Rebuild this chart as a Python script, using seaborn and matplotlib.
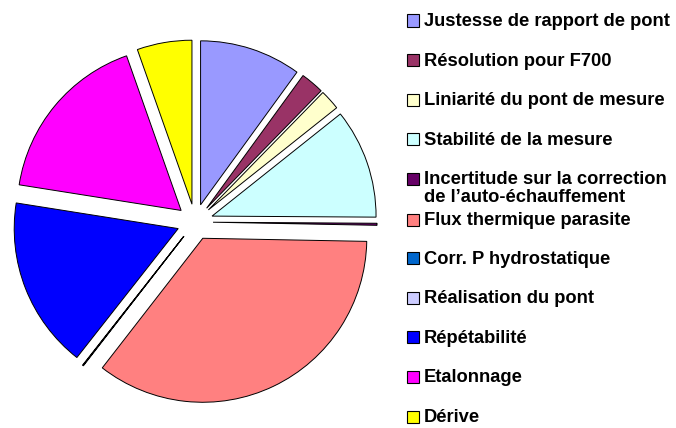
import matplotlib
matplotlib.use("Agg")
import matplotlib.pyplot as plt
from matplotlib.patches import Rectangle
import seaborn as sns

# Uncertainty budget contributions (percent of total)
categories = [
    "Justesse de rapport de pont",
    "Résolution pour F700",
    "Liniarité du pont de mesure",
    "Stabilité de la mesure",
    "Incertitude sur la correction\nde l\u2019auto-échauffement",
    "Flux thermique parasite",
    "Corr. P hydrostatique",
    "Réalisation du pont",
    "Répétabilité",
    "Etalonnage",
    "Dérive",
]
shares = [10.0, 2.3, 2.0, 10.8, 0.2, 35.2, 0.05, 0.05, 16.9, 17.1, 5.4]
colors = [
    "#9999FF", "#993366", "#FFFFCC", "#CCFFFF", "#660066", "#FF8080",
    "#0066CC", "#CCCCFF", "#0000FF", "#FF00FF", "#FFFF00",
]

sns.set_theme(style="white")
plt.rcParams["font.family"] = ["Liberation Sans", "DejaVu Sans"]

W, H = 676, 428
fig = plt.figure(figsize=(W / 100, H / 100), dpi=100)
fig.patch.set_facecolor("white")

# Pie placed in pixel units: centre (195, 222 from top), radius 164 px
cx, cy, r = 195, H - 222, 164
half = 1.25 * r
ax = fig.add_axes([(cx - half) / W, (cy - half) / H, 2 * half / W, 2 * half / H])
ax.pie(
    shares,
    colors=colors,
    startangle=90,
    counterclock=False,
    explode=[0.11] * len(shares),
    wedgeprops=dict(edgecolor="black", linewidth=0.7),
)
ax.set_xlim(-1.25, 1.25)
ax.set_ylim(-1.25, 1.25)
ax.set_aspect("equal")
ax.axis("off")

# Legend on the right, one entry roughly every 40 px
row_gap = 39.6
line_gap = 18
size = 12
for i, (label, col) in enumerate(zip(categories, colors)):
    yc = 20.5 + row_gap * i
    if i == 5:
        yc += 1
    fig.patches.append(Rectangle(
        (407 / W, (H - yc - size / 2) / H), size / W, size / H,
        transform=fig.transFigure, facecolor=col, edgecolor="black",
        linewidth=0.8, figure=fig,
    ))
    for k, line in enumerate(label.split("\n")):
        base = yc + 5.5 + k * line_gap
        fig.text(
            424 / W, (H - base) / H, line,
            fontsize=13.2, fontweight="bold", color="black",
            ha="left", va="baseline",
        )

fig.savefig("out.png", dpi=100, facecolor="white")
